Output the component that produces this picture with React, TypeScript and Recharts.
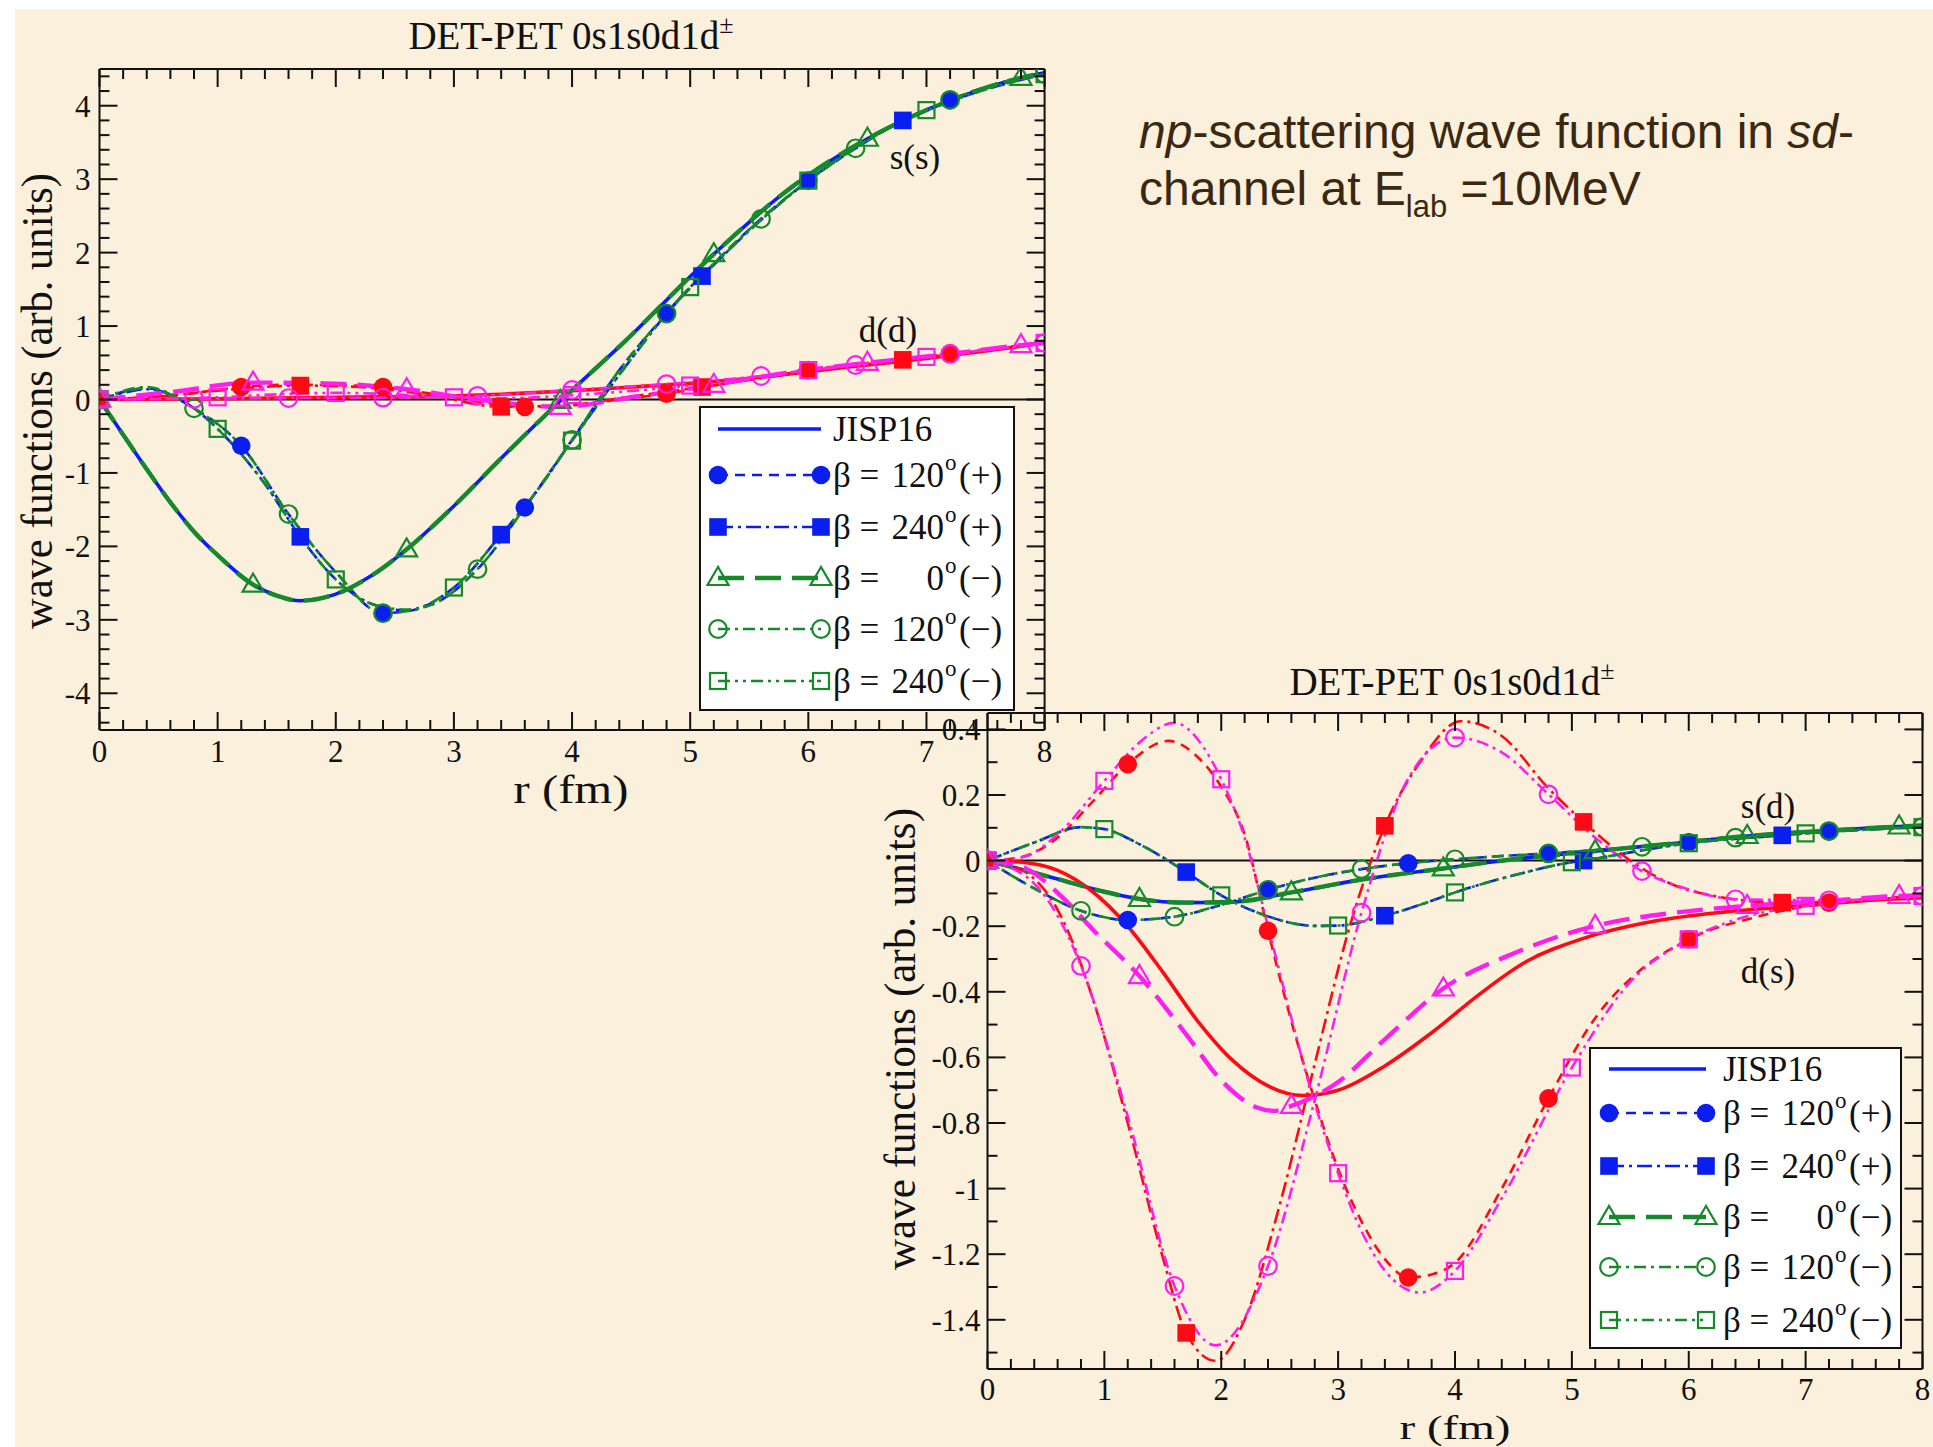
import React from 'react';
import { LineChart, Line, XAxis, YAxis, ReferenceLine } from 'recharts';

type P = [number, number];

// ---------- colours / fonts ----------
const BLUE = '#0A1EF0';
const GREEN = '#168A2A';
const RED = '#FF0A14';
const MAGENTA = '#FF1EF0';
const INK = '#111111';
const BEIGE = '#FAF0DC';
const SERIF = '"Liberation Serif", "Times New Roman", serif';
const SANS = '"Liberation Sans", Arial, sans-serif';

// ---------- axis ticks ----------
const X_MAJOR = [0, 1, 2, 3, 4, 5, 6, 7, 8];
const X_MINOR_STEP = 0.2;
const Y1_MAJOR = [-4, -3, -2, -1, 0, 1, 2, 3, 4];
const Y1_MINOR_STEP = 0.2;
const Y2_MAJOR = [-1.4, -1.2, -1, -0.8, -0.6, -0.4, -0.2, 0, 0.2, 0.4];
const Y2_MINOR_STEP = 0.1;
const X_DOMAIN: [number, number] = [0, 8];
const Y1_DOMAIN: [number, number] = [-4.5, 4.5];
const Y2_DOMAIN: [number, number] = [-1.55, 0.45];

// ---------- upper panel: s(s) components ----------
const ssJisp: P[] = [[0, 0], [0.2, -0.48], [0.4, -0.95], [0.6, -1.4], [0.8, -1.8], [1.0, -2.12], [1.3, -2.52], [1.5, -2.67], [1.7, -2.74], [2.0, -2.65], [2.3, -2.4], [2.6, -2.04], [3.0, -1.45], [3.4, -0.8], [3.9, -0.02], [4.4, 0.72], [5.2, 1.98], [5.8, 2.82], [6.5, 3.55], [7.2, 4.07], [7.8, 4.38], [8.0, 4.45]];
const ss0m: P[] = [[0, 0], [0.2, -0.48], [0.4, -0.95], [0.6, -1.4], [0.8, -1.8], [1.0, -2.12], [1.3, -2.52], [1.5, -2.67], [1.7, -2.74], [2.0, -2.65], [2.3, -2.4], [2.6, -2.04], [3.0, -1.45], [3.4, -0.8], [3.9, -0.02], [4.4, 0.72], [5.2, 1.98], [5.8, 2.82], [6.5, 3.55], [7.2, 4.07], [7.8, 4.38], [8.0, 4.45]];
const ss120p: P[] = [[0, 0], [0.4, 0.15], [0.8, -0.12], [1.2, -0.63], [1.6, -1.56], [2.0, -2.35], [2.4, -2.91], [2.8, -2.8], [3.2, -2.31], [3.6, -1.47], [4.0, -0.55], [4.4, 0.4], [4.8, 1.17], [5.2, 1.85], [5.6, 2.46], [6.0, 2.98], [6.4, 3.42], [6.8, 3.8], [7.2, 4.08], [7.6, 4.3], [8.0, 4.43]];
const ss120m: P[] = [[0, 0], [0.4, 0.17], [0.8, -0.12], [1.2, -0.63], [1.6, -1.56], [2.0, -2.35], [2.4, -2.91], [2.8, -2.8], [3.2, -2.31], [3.6, -1.47], [4.0, -0.55], [4.4, 0.4], [4.8, 1.17], [5.2, 1.85], [5.6, 2.46], [6.0, 2.98], [6.4, 3.42], [6.8, 3.8], [7.2, 4.08], [7.6, 4.3], [8.0, 4.43]];
const ss240p: P[] = [[0, 0], [0.2, 0.09], [0.4, 0.14], [0.6, 0.07], [0.8, -0.12], [1.0, -0.4], [1.4, -1.15], [1.7, -1.87], [2.0, -2.45], [2.3, -2.78], [2.6, -2.87], [3.0, -2.56], [3.4, -1.84], [3.7, -1.25], [4.0, -0.56], [4.5, 0.55], [5.0, 1.53], [5.1, 1.68], [5.5, 2.3], [6.0, 2.98], [6.8, 3.8], [7.0, 3.94], [7.5, 4.22], [8.0, 4.43]];
const ss240m: P[] = [[0, 0], [0.2, 0.1], [0.4, 0.16], [0.6, 0.07], [0.8, -0.12], [1.0, -0.4], [1.4, -1.15], [1.7, -1.87], [2.0, -2.45], [2.3, -2.78], [2.6, -2.86], [3.0, -2.56], [3.4, -1.84], [3.7, -1.25], [4.0, -0.56], [4.5, 0.55], [5.0, 1.53], [5.1, 1.68], [5.5, 2.3], [6.0, 2.98], [6.8, 3.8], [7.0, 3.94], [7.5, 4.22], [8.0, 4.43]];

// ---------- upper panel: d(d) components ----------
const ddJisp: P[] = [[0, 0], [1, 0.01], [2, 0.03], [3, 0.05], [3.5, 0.08], [4, 0.12], [4.5, 0.17], [5, 0.22], [5.5, 0.29], [6, 0.38], [6.5, 0.47], [7, 0.56], [7.5, 0.66], [8, 0.77]];
const dd120p: P[] = [[0, 0], [0.4, 0.03], [0.8, 0.09], [1.2, 0.17], [1.6, 0.2], [2.0, 0.195], [2.4, 0.17], [2.8, 0.08], [3.2, -0.03], [3.6, -0.1], [4.0, -0.08], [4.4, 0.0], [4.8, 0.08], [5.2, 0.19], [5.6, 0.3], [6.0, 0.4], [6.4, 0.48], [6.8, 0.55], [7.2, 0.63], [7.6, 0.7], [8.0, 0.77]];
const dd240p: P[] = [[0, 0], [0.5, 0.04], [1.0, 0.12], [1.7, 0.19], [2.2, 0.17], [2.8, 0.06], [3.4, -0.1], [4.0, -0.07], [4.5, 0.04], [5.1, 0.17], [5.6, 0.29], [6.2, 0.43], [6.8, 0.54], [7.4, 0.65], [8.0, 0.77]];
const dd0m: P[] = [[0, 0], [0.6, 0.1], [1.3, 0.23], [1.9, 0.22], [2.6, 0.14], [3.2, 0.0], [3.9, -0.1], [4.5, 0.03], [5.2, 0.2], [5.8, 0.36], [6.5, 0.5], [7.2, 0.62], [7.8, 0.74], [8.0, 0.77]];
const dd120m: P[] = [[0, 0], [0.8, 0.01], [1.6, 0.02], [2.4, 0.025], [3.2, 0.05], [4.0, 0.13], [4.8, 0.21], [5.6, 0.32], [6.4, 0.47], [7.2, 0.62], [8.0, 0.77]];
const dd240m: P[] = [[0, 0], [0.5, 0.01], [1, 0.03], [1.5, 0.07], [2, 0.09], [2.5, 0.07], [3, 0.03], [3.5, 0.02], [4, 0.06], [5, 0.19], [6, 0.4], [7, 0.58], [8, 0.77]];

// ---------- lower panel: s(d) components ----------
const sdJisp: P[] = [[0, 0], [0.3, -0.028], [0.6, -0.056], [1.0, -0.095], [1.3, -0.117], [1.7, -0.128], [2.1, -0.126], [2.6, -0.097], [3.2, -0.058], [3.9, -0.024], [4.5, 0.004], [5.2, 0.029], [5.8, 0.05], [6.5, 0.075], [7.2, 0.092], [7.8, 0.104], [8.0, 0.107]];
const sd0m: P[] = [[0, 0], [0.3, -0.028], [0.6, -0.056], [1.0, -0.095], [1.3, -0.117], [1.7, -0.128], [2.1, -0.126], [2.6, -0.097], [3.2, -0.058], [3.9, -0.024], [4.5, 0.004], [5.2, 0.029], [5.8, 0.05], [6.5, 0.075], [7.2, 0.092], [7.8, 0.104], [8.0, 0.107]];
const sd120p: P[] = [[0, 0], [0.4, -0.085], [0.8, -0.153], [1.2, -0.181], [1.6, -0.171], [2.0, -0.135], [2.4, -0.089], [2.8, -0.052], [3.2, -0.026], [3.6, -0.008], [4.0, 0.004], [4.4, 0.014], [4.8, 0.022], [5.2, 0.032], [5.6, 0.042], [6.0, 0.056], [6.4, 0.07], [6.8, 0.081], [7.2, 0.09], [7.6, 0.097], [8.0, 0.103]];
const sd120m: P[] = [[0, 0], [0.4, -0.085], [0.8, -0.153], [1.2, -0.181], [1.6, -0.171], [2.0, -0.135], [2.4, -0.089], [2.8, -0.052], [3.2, -0.026], [3.6, -0.008], [4.0, 0.004], [4.4, 0.014], [4.8, 0.022], [5.2, 0.032], [5.6, 0.042], [6.0, 0.056], [6.4, 0.07], [6.8, 0.081], [7.2, 0.09], [7.6, 0.097], [8.0, 0.103]];
const sd240p: P[] = [[0, 0], [0.4, 0.055], [0.8, 0.102], [1.0, 0.096], [1.3, 0.05], [1.7, -0.035], [2.0, -0.106], [2.4, -0.17], [2.8, -0.199], [3.0, -0.198], [3.4, -0.168], [3.7, -0.135], [4.0, -0.097], [4.5, -0.045], [5.0, -0.005], [5.1, 0.0], [5.5, 0.025], [6.0, 0.053], [6.8, 0.077], [7.0, 0.083], [7.5, 0.094], [8.0, 0.102]];
const sd240m: P[] = [[0, 0], [0.4, 0.055], [0.8, 0.102], [1.0, 0.096], [1.3, 0.05], [1.7, -0.035], [2.0, -0.106], [2.4, -0.17], [2.8, -0.199], [3.0, -0.198], [3.4, -0.168], [3.7, -0.135], [4.0, -0.097], [4.5, -0.045], [5.0, -0.005], [5.1, 0.0], [5.5, 0.025], [6.0, 0.053], [6.8, 0.077], [7.0, 0.083], [7.5, 0.094], [8.0, 0.102]];

// ---------- lower panel: d(s) components ----------
const dsJisp: P[] = [[0, 0], [0.3, -0.005], [0.6, -0.03], [0.9, -0.095], [1.2, -0.2], [1.5, -0.34], [1.8, -0.49], [2.1, -0.61], [2.4, -0.687], [2.7, -0.716], [3.0, -0.7], [3.4, -0.626], [3.8, -0.525], [4.2, -0.41], [4.6, -0.31], [5.1, -0.237], [5.7, -0.185], [6.3, -0.157], [7.0, -0.137], [7.6, -0.12], [8.0, -0.113]];
const ds0m: P[] = [[0, 0], [0.3, -0.02], [0.65, -0.115], [0.9, -0.21], [1.3, -0.352], [1.7, -0.53], [2.0, -0.67], [2.3, -0.752], [2.45, -0.763], [2.6, -0.748], [3.0, -0.675], [3.4, -0.545], [3.9, -0.39], [4.5, -0.283], [5.2, -0.199], [5.9, -0.158], [6.5, -0.138], [7.2, -0.122], [7.8, -0.108], [8.0, -0.106]];
const ds120p: P[] = [[0, 0], [0.3, 0.012], [0.6, 0.07], [0.9, 0.18], [1.2, 0.294], [1.55, 0.365], [1.8, 0.315], [2.0, 0.225], [2.2, 0.08], [2.4, -0.214], [2.6, -0.49], [2.8, -0.73], [3.0, -0.94], [3.2, -1.1], [3.4, -1.215], [3.6, -1.271], [3.8, -1.262], [4.0, -1.226], [4.4, -1.0], [4.8, -0.725], [5.2, -0.48], [5.6, -0.33], [6.0, -0.24], [6.6, -0.17], [7.2, -0.128], [7.6, -0.115], [8.0, -0.108]];
const ds240p: P[] = [[0, 0], [0.3, -0.03], [0.6, -0.15], [0.9, -0.42], [1.2, -0.8], [1.5, -1.21], [1.7, -1.44], [1.95, -1.525], [2.2, -1.4], [2.5, -1.05], [2.8, -0.62], [3.1, -0.2], [3.4, 0.106], [3.7, 0.3], [4.05, 0.425], [4.4, 0.38], [4.8, 0.22], [5.1, 0.118], [5.5, 0.0], [6.0, -0.09], [6.8, -0.128], [7.4, -0.122], [8.0, -0.108]];
const ds120m: P[] = [[0, 0], [0.4, -0.07], [0.8, -0.321], [1.2, -0.78], [1.6, -1.297], [1.95, -1.478], [2.4, -1.236], [2.8, -0.73], [3.2, -0.159], [3.6, 0.25], [4.0, 0.375], [4.4, 0.33], [4.8, 0.202], [5.2, 0.07], [5.6, -0.032], [6.0, -0.088], [6.4, -0.118], [7.2, -0.121], [8.0, -0.108]];
const ds240m: P[] = [[0, 0], [0.3, 0.01], [0.6, 0.08], [1.0, 0.243], [1.3, 0.36], [1.6, 0.42], [1.85, 0.345], [2.0, 0.248], [2.2, 0.07], [2.4, -0.2], [2.6, -0.48], [2.8, -0.74], [3.0, -0.953], [3.2, -1.13], [3.4, -1.25], [3.7, -1.317], [4.0, -1.251], [4.4, -1.03], [5.0, -0.631], [5.5, -0.37], [6.0, -0.24], [6.5, -0.17], [7.0, -0.138], [7.5, -0.12], [8.0, -0.108]];

// ---------- legend text ----------
const LEGEND_NUMBERS = ['', '120', '240', '0', '120', '240'];
const LEGEND_SIGNS = ['', '(+)', '(+)', '(\u2212)', '(\u2212)', '(\u2212)'];
const TITLE = 'DET-PET 0s1s0d1d';

// ---------- styles ----------
type StyleKey = 'jisp' | 'p120' | 'p240' | 'm0' | 'm120' | 'm240';
const STYLES: Record<StyleKey, { dash?: string; w: number; mark: string | null; every: number }> = {
  jisp: { dash: undefined, w: 3.6, mark: null, every: 0 },
  p120: { dash: '10 7', w: 2.6, mark: 'fc', every: 1.2 },
  p240: { dash: '15 5 3 5', w: 2.6, mark: 'fs', every: 1.7 },
  m0: { dash: '26 11', w: 4.4, mark: 'ot', every: 1.3 },
  m120: { dash: '12 5 3 5', w: 2.6, mark: 'oc', every: 0.8 },
  m240: { dash: '12 5 3 5 3 5', w: 2.6, mark: 'os', every: 1.0 },
};
const LEGEND_ORDER: StyleKey[] = ['jisp', 'p120', 'p240', 'm0', 'm120', 'm240'];
const LEGEND_COLORS = [BLUE, BLUE, BLUE, GREEN, GREEN, GREEN];

type Series = { key: string; data: P[]; color: string; style: StyleKey };

const TOP_SERIES: Series[] = [
  { key: 'ss-jisp', data: ssJisp, color: BLUE, style: 'jisp' },
  { key: 'dd-jisp', data: ddJisp, color: RED, style: 'jisp' },
  { key: 'ss-p120', data: ss120p, color: BLUE, style: 'p120' },
  { key: 'dd-p120', data: dd120p, color: RED, style: 'p120' },
  { key: 'ss-p240', data: ss240p, color: BLUE, style: 'p240' },
  { key: 'dd-p240', data: dd240p, color: RED, style: 'p240' },
  { key: 'ss-m0', data: ss0m, color: GREEN, style: 'm0' },
  { key: 'dd-m0', data: dd0m, color: MAGENTA, style: 'm0' },
  { key: 'ss-m120', data: ss120m, color: GREEN, style: 'm120' },
  { key: 'dd-m120', data: dd120m, color: MAGENTA, style: 'm120' },
  { key: 'ss-m240', data: ss240m, color: GREEN, style: 'm240' },
  { key: 'dd-m240', data: dd240m, color: MAGENTA, style: 'm240' },
];

const BOTTOM_SERIES: Series[] = [
  { key: 'sd-jisp', data: sdJisp, color: BLUE, style: 'jisp' },
  { key: 'ds-jisp', data: dsJisp, color: RED, style: 'jisp' },
  { key: 'sd-p120', data: sd120p, color: BLUE, style: 'p120' },
  { key: 'ds-p120', data: ds120p, color: RED, style: 'p120' },
  { key: 'sd-p240', data: sd240p, color: BLUE, style: 'p240' },
  { key: 'ds-p240', data: ds240p, color: RED, style: 'p240' },
  { key: 'sd-m0', data: sd0m, color: GREEN, style: 'm0' },
  { key: 'ds-m0', data: ds0m, color: MAGENTA, style: 'm0' },
  { key: 'sd-m120', data: sd120m, color: GREEN, style: 'm120' },
  { key: 'ds-m120', data: ds120m, color: MAGENTA, style: 'm120' },
  { key: 'sd-m240', data: sd240m, color: GREEN, style: 'm240' },
  { key: 'ds-m240', data: ds240m, color: MAGENTA, style: 'm240' },
];

// ---------- helpers ----------
function withMinor(domain: [number, number], step: number): number[] {
  const out: number[] = [];
  const n0 = Math.ceil(domain[0] / step - 1e-9);
  const n1 = Math.floor(domain[1] / step + 1e-9);
  for (let i = n0; i <= n1; i++) out.push(Math.round(i * step * 1000) / 1000);
  return out;
}
const isMajor = (v: number, majors: number[]) => majors.some((m) => Math.abs(m - v) < 1e-6);
const fmt = (v: number) => (Math.abs(v) < 1e-9 ? '0' : String(Math.round(v * 1000) / 1000));
const rows = (a: P[]) => a.map(([r, v]) => ({ r, v }));

const TICK_MAJOR = 18;
const TICK_MINOR = 10;

function Marker({ kind, cx, cy, color }: { kind: string; cx: number; cy: number; color: string }) {
  switch (kind) {
    case 'fc':
      return <circle cx={cx} cy={cy} r={9.3} fill={color} />;
    case 'fs':
      return <rect x={cx - 8.8} y={cy - 8.8} width={17.6} height={17.6} fill={color} />;
    case 'ot':
      return <polygon points={`${cx},${cy - 11} ${cx - 10.5},${cy + 7} ${cx + 10.5},${cy + 7}`} fill="none" stroke={color} strokeWidth={2.2} />;
    case 'oc':
      return <circle cx={cx} cy={cy} r={8.8} fill="none" stroke={color} strokeWidth={2.2} />;
    case 'os':
      return <rect x={cx - 8} y={cy - 8} width={16} height={16} fill="none" stroke={color} strokeWidth={2.2} />;
    default:
      return null;
  }
}

function makeDot(style: StyleKey, color: string) {
  const st = STYLES[style];
  return (props: any) => {
    const { cx, cy, payload, index } = props;
    const k = `d-${index}`;
    if (!st.mark || cx == null || cy == null || !payload) return <g key={k} />;
    const q = payload.r / st.every;
    if (Math.abs(q - Math.round(q)) > 1e-6) return <g key={k} />;
    return (
      <g key={k}>
        <Marker kind={st.mark} cx={cx} cy={cy} color={color} />
      </g>
    );
  };
}

function makeXTick(side: 'bottom' | 'top', majors: number[], labelDy: number) {
  return (props: any) => {
    const { x, y, payload } = props;
    const v = payload.value;
    const maj = isMajor(v, majors);
    const len = maj ? TICK_MAJOR : TICK_MINOR;
    const y2 = side === 'bottom' ? y - len : y + len;
    return (
      <g>
        <line x1={x} x2={x} y1={y} y2={y2} stroke={INK} strokeWidth={2} />
        {side === 'bottom' && maj ? (
          <text x={x} y={y + labelDy} textAnchor="middle" fontFamily={SERIF} fontSize={31} fill={INK}>
            {fmt(v)}
          </text>
        ) : null}
      </g>
    );
  };
}

function makeYTick(side: 'left' | 'right', majors: number[], labelGap: number) {
  return (props: any) => {
    const { x, y, payload } = props;
    const v = payload.value;
    const maj = isMajor(v, majors);
    const len = maj ? TICK_MAJOR : TICK_MINOR;
    const x2 = side === 'left' ? x + len : x - len;
    return (
      <g>
        <line x1={x} x2={x2} y1={y} y2={y} stroke={INK} strokeWidth={2} />
        {side === 'left' && maj ? (
          <text x={x - labelGap} y={y + 11} textAnchor="end" fontFamily={SERIF} fontSize={31} fill={INK}>
            {fmt(v)}
          </text>
        ) : null}
      </g>
    );
  };
}

const AXIS_LINE = { stroke: INK, strokeWidth: 2 };

function Panel({
  series,
  yDomain,
  yMajor,
  yMinorStep,
  margin,
  labelGap,
  xLabelDy,
}: {
  series: Series[];
  yDomain: [number, number];
  yMajor: number[];
  yMinorStep: number;
  margin: { left: number; right: number; top: number; bottom: number };
  labelGap: number;
  xLabelDy: number;
}) {
  const xTicks = withMinor(X_DOMAIN, X_MINOR_STEP);
  const yTicks = withMinor(yDomain, yMinorStep);
  return (
    <div style={{ position: 'absolute', left: 0, top: 0, width: 1933, height: 1447 }}>
      <LineChart width={1933} height={1447} margin={margin}>
        <XAxis
          xAxisId={0}
          dataKey="r"
          type="number"
          domain={X_DOMAIN}
          ticks={xTicks}
          interval={0}
          tickSize={0}
          tickMargin={0}
          tickLine={false}
          height={10}
          axisLine={AXIS_LINE}
          allowDataOverflow
          tick={makeXTick('bottom', X_MAJOR, xLabelDy)}
        />
        <XAxis
          xAxisId="top"
          orientation="top"
          dataKey="r"
          type="number"
          domain={X_DOMAIN}
          ticks={xTicks}
          interval={0}
          tickSize={0}
          tickMargin={0}
          tickLine={false}
          height={10}
          axisLine={AXIS_LINE}
          allowDataOverflow
          tick={makeXTick('top', X_MAJOR, xLabelDy)}
        />
        <YAxis
          yAxisId={0}
          type="number"
          domain={yDomain}
          ticks={yTicks}
          interval={0}
          tickSize={0}
          tickMargin={0}
          tickLine={false}
          width={10}
          axisLine={AXIS_LINE}
          allowDataOverflow
          tick={makeYTick('left', yMajor, labelGap)}
        />
        <YAxis
          yAxisId="right"
          orientation="right"
          type="number"
          domain={yDomain}
          ticks={yTicks}
          interval={0}
          tickSize={0}
          tickMargin={0}
          tickLine={false}
          width={10}
          axisLine={AXIS_LINE}
          allowDataOverflow
          tick={makeYTick('right', yMajor, labelGap)}
        />
        <ReferenceLine y={0} yAxisId={0} xAxisId={0} stroke={INK} strokeWidth={2} />
        {series.map((s) => {
          const st = STYLES[s.style];
          return (
            <Line
              key={s.key}
              xAxisId={0}
              yAxisId={0}
              data={rows(s.data)}
              dataKey="v"
              type="monotone"
              stroke={s.color}
              strokeWidth={st.w}
              strokeDasharray={st.dash}
              dot={makeDot(s.style, s.color)}
              activeDot={false}
              isAnimationActive={false}
              legendType="none"
            />
          );
        })}
      </LineChart>
    </div>
  );
}

function LegendBox({ x, y, w, h, rowYs, s1, s2, tx }: { x: number; y: number; w: number; h: number; rowYs: number[]; s1: number; s2: number; tx: number }) {
  return (
    <g>
      <rect x={x} y={y} width={w} height={h} fill="#FFFFFF" stroke={INK} strokeWidth={2} />
      {LEGEND_ORDER.map((key, i) => {
        const st = STYLES[key];
        const c = LEGEND_COLORS[i];
        const ry = rowYs[i];
        return (
          <g key={key}>
            <line x1={s1} x2={s2} y1={ry} y2={ry} stroke={c} strokeWidth={st.w} strokeDasharray={st.dash} />
            {st.mark ? <Marker kind={st.mark} cx={s1} cy={ry} color={c} /> : null}
            {st.mark ? <Marker kind={st.mark} cx={s2} cy={ry} color={c} /> : null}
            {i === 0 ? (
              <text x={tx} y={ry + 12} fontFamily={SERIF} fontSize={35} fill={INK}>
                JISP16
              </text>
            ) : (
              <g>
                <text x={tx} y={ry + 12} fontFamily={SERIF} fontSize={35} fill={INK}>
                  {'\u03B2 ='}
                </text>
                <text x={tx + 111} y={ry + 12} textAnchor="end" fontFamily={SERIF} fontSize={35} fill={INK}>
                  {LEGEND_NUMBERS[i]}
                </text>
                <text x={tx + 112} y={ry - 5} fontFamily={SERIF} fontSize={23} fill={INK}>
                  o
                </text>
                <text x={tx + 126} y={ry + 12} fontFamily={SERIF} fontSize={35} fill={INK}>
                  {LEGEND_SIGNS[i]}
                </text>
              </g>
            )}
          </g>
        );
      })}
    </g>
  );
}

export default function App() {
  return (
    <div style={{ position: 'absolute', left: 0, top: 0, width: 1933, height: 1447, background: '#FFFFFF', overflow: 'hidden' }}>
      <div style={{ position: 'absolute', left: 15, top: 9, width: 1918, height: 1438, background: BEIGE }} />
      <Panel
        series={TOP_SERIES}
        yDomain={Y1_DOMAIN}
        yMajor={Y1_MAJOR}
        yMinorStep={Y1_MINOR_STEP}
        margin={{ left: 89.5, top: 59, right: 878.4, bottom: 707 }}
        labelGap={9}
        xLabelDy={32}
      />
      <svg width={1933} height={1447} style={{ position: 'absolute', left: 0, top: 0 }}>
        <LegendBox x={700} y={407} w={314} h={303} rowYs={[429, 475, 527, 578, 629, 681]} s1={718} s2={821} tx={833} />
      </svg>
      <Panel
        series={BOTTOM_SERIES}
        yDomain={Y2_DOMAIN}
        yMajor={Y2_MAJOR}
        yMinorStep={Y2_MINOR_STEP}
        margin={{ left: 977.5, top: 703, right: 0.5, bottom: 68 }}
        labelGap={7}
        xLabelDy={31}
      />
      <svg width={1933} height={1447} style={{ position: 'absolute', left: 0, top: 0 }}>
        <LegendBox x={1590} y={1048} w={311} h={300} rowYs={[1069, 1113, 1166, 1217, 1267, 1320]} s1={1609} s2={1706} tx={1723} />

        {/* titles */}
        <text x={571} y={49} textAnchor="middle" fontFamily={SERIF} fontSize={39} fill={INK}>
          {TITLE}
          <tspan fontSize={26} dy={-16}>{'\u00B1'}</tspan>
        </text>
        <text x={1452} y={695} textAnchor="middle" fontFamily={SERIF} fontSize={39} fill={INK}>
          {TITLE}
          <tspan fontSize={26} dy={-16}>{'\u00B1'}</tspan>
        </text>

        {/* axis labels */}
        <text transform="translate(37,401) rotate(-90)" textAnchor="middle" dominantBaseline="central" fontFamily={SERIF} fontSize={44} fill={INK} textLength={456} lengthAdjust="spacingAndGlyphs">
          wave functions (arb. units)
        </text>
        <text transform="translate(900,1039) rotate(-90)" textAnchor="middle" dominantBaseline="central" fontFamily={SERIF} fontSize={44} fill={INK} textLength={462} lengthAdjust="spacingAndGlyphs">
          wave functions (arb. units)
        </text>
        <text x={571} y={803} textAnchor="middle" fontFamily={SERIF} fontSize={40} fill={INK} textLength={115} lengthAdjust="spacingAndGlyphs">
          r (fm)
        </text>
        <text x={1455} y={1439} textAnchor="middle" fontFamily={SERIF} fontSize={34} fill={INK} textLength={111} lengthAdjust="spacingAndGlyphs">
          r (fm)
        </text>

        {/* component annotations */}
        <text x={915} y={169} textAnchor="middle" fontFamily={SERIF} fontSize={35} fill={INK}>s(s)</text>
        <text x={888} y={342} textAnchor="middle" fontFamily={SERIF} fontSize={35} fill={INK}>d(d)</text>
        <text x={1768} y={818} textAnchor="middle" fontFamily={SERIF} fontSize={35} fill={INK}>s(d)</text>
        <text x={1768} y={983} textAnchor="middle" fontFamily={SERIF} fontSize={35} fill={INK}>d(s)</text>

        {/* slide caption */}
        <text x={1139} y={148} fontFamily={SANS} fontSize={48} fill="#3A2810">
          <tspan fontStyle="italic">np</tspan>-scattering wave function in <tspan fontStyle="italic">sd</tspan>-
        </text>
        <text x={1139} y={205} fontFamily={SANS} fontSize={48} fill="#3A2810">
          channel at E<tspan fontSize={31} dy={12}>lab</tspan>
          <tspan dy={-12}> =10MeV</tspan>
        </text>
      </svg>
    </div>
  );
}
